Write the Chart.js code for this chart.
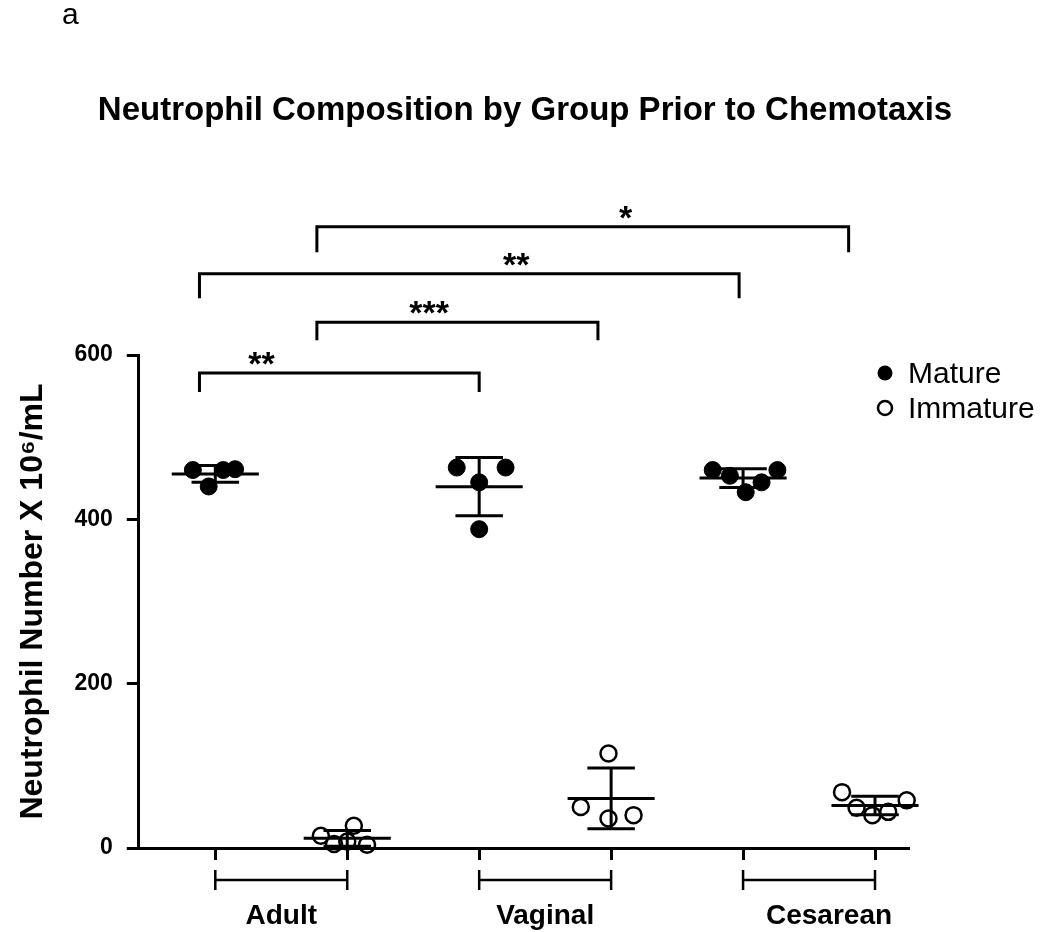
<!DOCTYPE html>
<html>
<head>
<meta charset="utf-8">
<script src="https://cdn.jsdelivr.net/npm/chart.js@4.4.0/dist/chart.umd.min.js"></script>
<style>
  body { margin: 0; background: #fff; }
  #wrap { position: relative; width: 1050px; height: 932px; }
  #panel { position: absolute; left: 62px; top: -3px; font: 30px "Liberation Sans", Arial, sans-serif; color: #000; }
</style>
</head>
<body>
<div id="wrap">
  <div id="panel">a</div>
  <canvas id="chart" width="1050" height="932"></canvas>
</div>
<script>
// groups on the x axis; mature column at 2*i, immature at 2*i+1
const groups = ['Adult', 'Vaginal', 'Cesarean'];
const columns = [0, 1, 2, 3, 4, 5];

// individual values (10^6/mL) and their horizontal scatter inside a column
const adultMature = [460, 440, 460, 461];
const adultMatureJit = [-0.17, -0.05, 0.06, 0.15];
const adultImmature = [15, 5, 27, 8, 4];
const adultImmatureJit = [-0.2, -0.1, 0.05, 0.0, 0.15];

const vaginalMature = [463, 463, 445, 388];
const vaginalMatureJit = [-0.17, 0.2, 0.0, 0.0];
const vaginalImmature = [115, 50, 36, 40];
const vaginalImmatureJit = [-0.02, -0.23, -0.02, 0.17];

const cesareanMature = [460, 453, 433, 445, 460];
const cesareanMatureJit = [-0.23, -0.1, 0.02, 0.14, 0.26];
const cesareanImmature = [68, 49, 40, 44, 58];
const cesareanImmatureJit = [-0.25, -0.14, -0.02, 0.1, 0.24];

const yTicks = [0, 200, 400, 600];

// significance brackets: x from/to (column units), bar height, end drop, label position
const sigFrom = [-0.12, 0.77, -0.12, 0.77];
const sigTo = [2.0, 2.9, 3.97, 4.8];
const sigBar = [578, 640, 699, 756];
const sigDrop = [555, 618, 669, 725];
const sigLabel = ['**', '***', '**', '*'];
const sigLabelX = [0.35, 1.62, 2.28, 3.11];

const FONT = '"Liberation Sans", Arial, Helvetica, sans-serif';

function pts(vals, jit, col) {
  return vals.map((v, i) => ({ x: col + jit[i], y: v }));
}
function mean(a) { return a.reduce((s, v) => s + v, 0) / a.length; }
function sd(a) {
  const m = mean(a);
  return Math.sqrt(a.reduce((s, v) => s + (v - m) * (v - m), 0) / (a.length - 1));
}

const series = [
  { vals: adultMature, jit: adultMatureJit, col: 0, mature: true },
  { vals: adultImmature, jit: adultImmatureJit, col: 1, mature: false },
  { vals: vaginalMature, jit: vaginalMatureJit, col: 2, mature: true },
  { vals: vaginalImmature, jit: vaginalImmatureJit, col: 3, mature: false },
  { vals: cesareanMature, jit: cesareanMatureJit, col: 4, mature: true },
  { vals: cesareanImmature, jit: cesareanImmatureJit, col: 5, mature: false }
];

const datasets = series.map(s => ({
  label: s.mature ? 'Mature' : 'Immature',
  data: pts(s.vals, s.jit, s.col),
  clip: false,
  pointRadius: s.mature ? 8.5 : 8,
  pointBackgroundColor: s.mature ? '#000' : 'rgba(0,0,0,0)',
  pointBorderColor: '#000',
  pointBorderWidth: s.mature ? 1 : 2.5
}));

const overlay = {
  id: 'overlay',
  afterDatasetsDraw(chart) {
    const ctx = chart.ctx;
    const xs = chart.scales.x, ys = chart.scales.y;
    const X = v => xs.getPixelForValue(v), Y = v => ys.getPixelForValue(v);
    ctx.save();
    ctx.strokeStyle = '#000';
    ctx.fillStyle = '#000';
    ctx.lineCap = 'butt';

    // mean +/- SD
    series.forEach(s => {
      const m = mean(s.vals), d = sd(s.vals);
      ctx.lineWidth = 3;
      ctx.beginPath();
      ctx.moveTo(X(s.col - 0.33), Y(m)); ctx.lineTo(X(s.col + 0.33), Y(m));
      ctx.moveTo(X(s.col), Y(m - d)); ctx.lineTo(X(s.col), Y(m + d));
      ctx.moveTo(X(s.col - 0.18), Y(m + d)); ctx.lineTo(X(s.col + 0.18), Y(m + d));
      ctx.moveTo(X(s.col - 0.18), Y(m - d)); ctx.lineTo(X(s.col + 0.18), Y(m - d));
      ctx.stroke();
    });

    // significance brackets
    ctx.lineWidth = 3;
    ctx.lineJoin = 'miter';
    sigFrom.forEach((f, i) => {
      ctx.beginPath();
      ctx.moveTo(X(f), Y(sigDrop[i]));
      ctx.lineTo(X(f), Y(sigBar[i]));
      ctx.lineTo(X(sigTo[i]), Y(sigBar[i]));
      ctx.lineTo(X(sigTo[i]), Y(sigDrop[i]));
      ctx.stroke();
      ctx.font = 'bold 34px ' + FONT;
      ctx.textAlign = 'center';
      ctx.textBaseline = 'alphabetic';
      ctx.fillText(sigLabel[i], X(sigLabelX[i]), Y(sigBar[i]) + 2);
    });

    // group brackets under the x axis
    const yb = ys.bottom;
    ctx.lineWidth = 2.5;
    groups.forEach((g, i) => {
      const a = X(2 * i), b = X(2 * i + 1);
      ctx.beginPath();
      ctx.moveTo(a, yb + 22); ctx.lineTo(a, yb + 42);
      ctx.moveTo(b, yb + 22); ctx.lineTo(b, yb + 42);
      ctx.moveTo(a, yb + 32); ctx.lineTo(b, yb + 32);
      ctx.stroke();
      ctx.font = 'bold 28px ' + FONT;
      ctx.textAlign = 'center';
      ctx.textBaseline = 'middle';
      ctx.fillText(g, (a + b) / 2 + (i === 2 ? 20 : 0), yb + 68);
    });

    // title
    ctx.font = 'bold 33px ' + FONT;
    ctx.textAlign = 'center';
    ctx.textBaseline = 'middle';
    ctx.fillText('Neutrophil Composition by Group Prior to Chemotaxis', 525, 111);

    // legend
    ctx.font = '30px ' + FONT;
    ctx.textAlign = 'left';
    ctx.textBaseline = 'middle';
    ctx.beginPath(); ctx.arc(885, 373, 7.5, 0, Math.PI * 2); ctx.fill();
    ctx.fillText('Mature', 908, 375);
    ctx.lineWidth = 2.5;
    ctx.beginPath(); ctx.arc(885, 408, 7, 0, Math.PI * 2); ctx.stroke();
    ctx.fillText('Immature', 908, 410);
    ctx.restore();
  }
};

new Chart(document.getElementById('chart'), {
  type: 'scatter',
  data: { datasets },
  options: {
    responsive: false,
    animation: false,
    layout: { padding: { top: 355, left: 14, right: 142, bottom: 72 } },
    plugins: { legend: { display: false }, tooltip: { enabled: false } },
    scales: {
      x: {
        type: 'linear', min: -0.58, max: 5.25,
        afterBuildTicks: axis => { axis.ticks = columns.map(v => ({ value: v })); },
        ticks: { display: false },
        grid: { drawOnChartArea: false, drawTicks: true, tickLength: 12, color: '#000', lineWidth: 3 },
        border: { color: '#000', width: 3 }
      },
      y: {
        min: 0, max: 600,
        afterBuildTicks: axis => { axis.ticks = yTicks.map(v => ({ value: v })); },
        ticks: { color: '#000', font: { family: FONT, size: 23, weight: 'bold' }, padding: 14 },
        grid: { drawOnChartArea: false, drawTicks: true, tickLength: 12, color: '#000', lineWidth: 3 },
        border: { color: '#000', width: 3 },
        title: {
          display: true, text: 'Neutrophil Number X 10⁶/mL', color: '#000',
          font: { family: FONT, size: 32, weight: 'bold' }, padding: { top: 0, bottom: 8 }
        }
      }
    }
  },
  plugins: [overlay]
});
</script>
</body>
</html>
